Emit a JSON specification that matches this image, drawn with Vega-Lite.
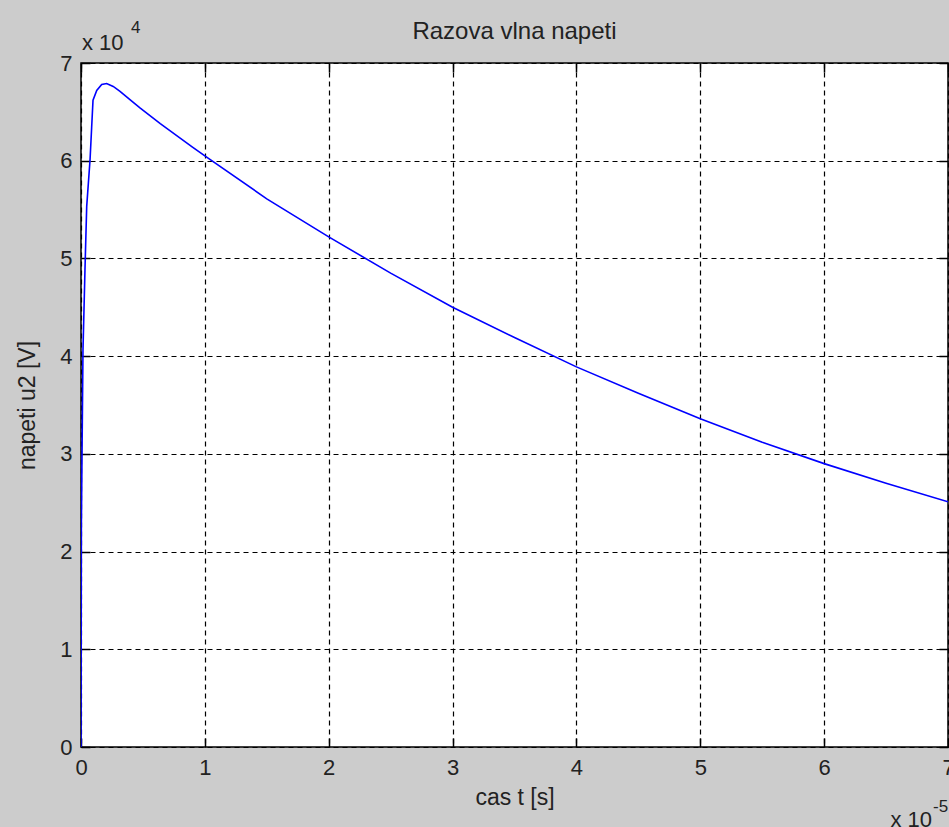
{
  "$schema": "https://vega.github.io/schema/vega-lite/v6.json",
  "autosize": {"type": "none"},
  "width": 867,
  "height": 684,
  "padding": {"left": 81, "top": 63, "right": 1, "bottom": 80},
  "background": "#cccccc",
  "config": {
    "view": {"fill": "white", "stroke": "#000000", "strokeWidth": 1.5},
    "font": "Liberation Sans",
    "axis": {
      "domain": false,
      "labelFont": "Liberation Sans",
      "labelFontSize": 22,
      "labelColor": "#222222",
      "titleFont": "Liberation Sans",
      "titleFontSize": 23,
      "titleFontWeight": "normal",
      "titleColor": "#222222",
      "tickColor": "#000000",
      "tickSize": -9,
      "tickWidth": 1.5
    }
  },
  "title": {"text": "Razova vlna napeti", "fontSize": 24, "fontWeight": "normal", "color": "#222222", "font": "Liberation Sans", "offset": -25},
  "data": {"values": [
    {"t": 0, "u": 0},
    {"t": 3e-8, "u": 22800},
    {"t": 1.6e-7, "u": 40600},
    {"t": 3.2e-7, "u": 48800},
    {"t": 4.6e-7, "u": 55300},
    {"t": 7.3e-7, "u": 60100},
    {"t": 8.6e-7, "u": 63400},
    {"t": 9.7e-7, "u": 66200},
    {"t": 1.27e-6, "u": 67200},
    {"t": 1.67e-6, "u": 67800},
    {"t": 2.07e-6, "u": 67900},
    {"t": 2.6e-6, "u": 67600},
    {"t": 3.15e-6, "u": 67100},
    {"t": 4.0e-6, "u": 66200},
    {"t": 4.76e-6, "u": 65400},
    {"t": 6.4e-6, "u": 63800},
    {"t": 7.7e-6, "u": 62600},
    {"t": 9.0e-6, "u": 61400},
    {"t": 1.0e-5, "u": 60500},
    {"t": 1.5e-5, "u": 56100},
    {"t": 2.0e-5, "u": 52200},
    {"t": 2.5e-5, "u": 48500},
    {"t": 3.0e-5, "u": 45000},
    {"t": 3.5e-5, "u": 41900},
    {"t": 4.0e-5, "u": 38900},
    {"t": 4.5e-5, "u": 36200},
    {"t": 5.0e-5, "u": 33600},
    {"t": 5.5e-5, "u": 31200},
    {"t": 6.0e-5, "u": 29000},
    {"t": 6.5e-5, "u": 27000},
    {"t": 7.0e-5, "u": 25100}
  ]},
  "layer": [
    {
      "mark": {"type": "line", "color": "#0000ff", "strokeWidth": 1.6, "clip": true},
      "encoding": {
        "x": {"field": "t", "type": "quantitative",
          "scale": {"domain": [0, 7e-5], "nice": false, "zero": true},
          "axis": {"orient": "bottom", "title": "cas t [s]", "values": [0, 1e-5, 2e-5, 3e-5, 4e-5, 5e-5, 6e-5, 7e-5],
            "labelExpr": "format(round(datum.value*1e5), 'd')", "labelPadding": 19, "titlePadding": 8,
            "grid": true, "gridColor": "#000000", "gridOpacity": 1, "gridDash": [5, 4], "gridWidth": 1.2, "labelFlush": false}},
        "y": {"field": "u", "type": "quantitative",
          "scale": {"domain": [0, 70000], "nice": false, "zero": true},
          "axis": {"orient": "left", "title": "napeti u2 [V]", "values": [0, 10000, 20000, 30000, 40000, 50000, 60000, 70000],
            "labelExpr": "format(round(datum.value/1e4), 'd')", "labelPadding": 18, "titlePadding": 20,
            "grid": true, "gridColor": "#000000", "gridOpacity": 1, "gridDash": [5, 4], "gridWidth": 1.2, "labelFlush": false}}
      }
    },
    {
      "mark": {"type": "line", "strokeOpacity": 0},
      "encoding": {
        "x": {"field": "t", "type": "quantitative",
          "axis": {"orient": "top", "title": null, "labels": false, "grid": false, "values": [0, 1e-5, 2e-5, 3e-5, 4e-5, 5e-5, 6e-5, 7e-5]}},
        "y": {"field": "u", "type": "quantitative",
          "axis": {"orient": "right", "title": null, "labels": false, "grid": false, "values": [0, 10000, 20000, 30000, 40000, 50000, 60000, 70000]}}
      }
    },
    {
      "data": {"values": [
        {"t": 0, "u": 70000, "label": "x 10"}
      ]},
      "mark": {"type": "text", "align": "left", "baseline": "alphabetic", "dx": 1, "dy": -13, "fontSize": 22, "color": "#222222", "font": "Liberation Sans", "clip": false},
      "encoding": {
        "x": {"field": "t", "type": "quantitative", "axis": null},
        "y": {"field": "u", "type": "quantitative", "axis": null},
        "text": {"field": "label"}
      }
    },
    {
      "data": {"values": [
        {"t": 0, "u": 70000, "label": "4"}
      ]},
      "mark": {"type": "text", "align": "left", "baseline": "alphabetic", "dx": 50, "dy": -30, "fontSize": 17, "color": "#222222", "font": "Liberation Sans", "clip": false},
      "encoding": {
        "x": {"field": "t", "type": "quantitative", "axis": null},
        "y": {"field": "u", "type": "quantitative", "axis": null},
        "text": {"field": "label"}
      }
    },
    {
      "data": {"values": [
        {"t": 7e-5, "u": 0, "label": "x 10"}
      ]},
      "mark": {"type": "text", "align": "right", "baseline": "alphabetic", "dx": -16, "dy": 80, "fontSize": 22, "color": "#222222", "font": "Liberation Sans", "clip": false},
      "encoding": {
        "x": {"field": "t", "type": "quantitative", "axis": null},
        "y": {"field": "u", "type": "quantitative", "axis": null},
        "text": {"field": "label"}
      }
    },
    {
      "data": {"values": [
        {"t": 7e-5, "u": 0, "label": "-5"}
      ]},
      "mark": {"type": "text", "align": "left", "baseline": "alphabetic", "dx": -15, "dy": 65, "fontSize": 17, "color": "#222222", "font": "Liberation Sans", "clip": false},
      "encoding": {
        "x": {"field": "t", "type": "quantitative", "axis": null},
        "y": {"field": "u", "type": "quantitative", "axis": null},
        "text": {"field": "label"}
      }
    }
  ],
  "resolve": {"axis": {"x": "independent", "y": "independent"}}
}
